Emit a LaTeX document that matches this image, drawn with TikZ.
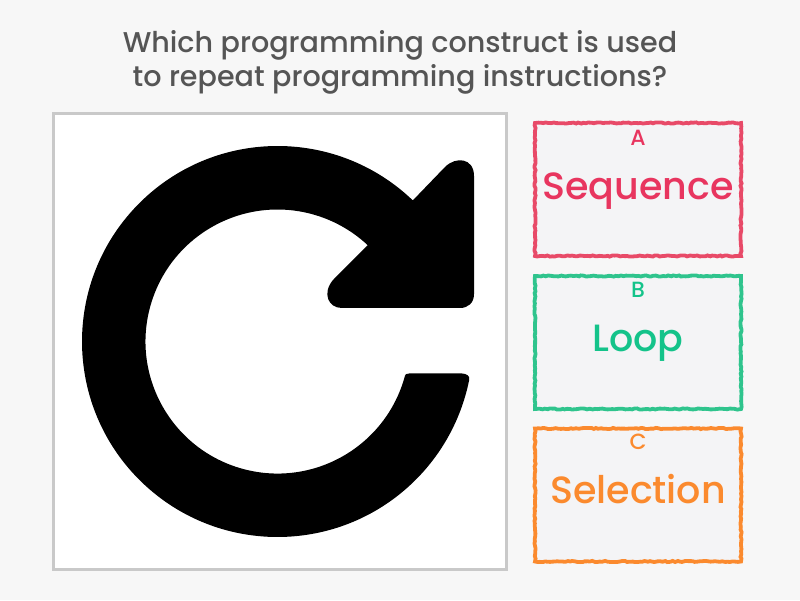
\documentclass[tikz,border=0pt]{standalone}
\usepackage{fontspec}
\setmainfont{Poppins Medium}
\usetikzlibrary{decorations.pathmorphing}

\definecolor{pagebg}{HTML}{F7F7F7}
\definecolor{boxbg}{HTML}{F4F4F6}
\definecolor{framegray}{HTML}{C9C9C9}
\definecolor{titlegray}{HTML}{555555}
\definecolor{seqred}{HTML}{E8355F}
\definecolor{seqline}{HTML}{E84A68}
\definecolor{loopgreen}{HTML}{14C38A}
\definecolor{loopline}{HTML}{2FC48D}
\definecolor{selorange}{HTML}{FB8A2E}

\tikzstyle{question} = [text=titlegray, font=\fontsize{28.6}{34}\selectfont, align=center]
\tikzstyle{answerbox} = [line width=3.8pt, fill=boxbg, minimum width=206pt, minimum height=133pt, inner sep=0pt, decorate, decoration={random steps, segment length=2.5pt, amplitude=.6pt}]
\tikzstyle{letter} = [font=\fontsize{22}{26}\selectfont, inner sep=0pt, anchor=base]
\tikzstyle{answer} = [font=\fontsize{38}{44}\selectfont, inner sep=0pt, anchor=base]

\begin{document}
\begin{tikzpicture}[x=1pt, y=1pt]
        \useasboundingbox (0,0) rectangle (800,600);
        \fill[pagebg] (0,0) rectangle (800,600);

        \node[question] (title) at (400,537.5) {Which programming construct is used\\to repeat programming instructions?};

        % picture frame and icon
        \node[draw=framegray, line width=3pt, fill=white, minimum width=453pt, minimum height=455pt, inner sep=0pt] (frame) at (279.5,258.5) {};
        \fill[black] (277.5,258.5) ++(46.2:195.5)
            arc[start angle=46.2, end angle=348.7, radius=195.5]
            .. controls (470.5,224) and (466,226.5) .. (462,226.5) -- (409,226.5)
            .. controls (406,226.5) and (405.5,225.5) .. (405,224.3)
            arc[start angle=345, end angle=46.9, radius=132]
            -- (333,320) .. controls (322,307) and (328,292) .. (342,292)
            -- (460,292) .. controls (468,292) and (474,297) .. (474,306)
            -- (474,424) .. controls (474,442) and (456,444) .. (445,433) -- cycle;

        % answers
        \node[answerbox, draw=seqline] (boxA) at (638,410.5) {};
        \node[letter, text=seqred] (letterA) at (638,454.5) {A};
        \node[answer, text=seqred] (answerA) at (638,400.5) {Sequence};

        \node[answerbox, draw=loopline] (boxB) at (638,257.5) {};
        \node[letter, text=loopgreen] (letterB) at (638,302.5) {B};
        \node[answer, text=loopgreen] (answerB) at (638,248.5) {Loop};

        \node[answerbox, draw=selorange] (boxC) at (638,105) {};
        \node[letter, text=selorange] (letterC) at (638,150.5) {C};
        \node[answer, text=selorange] (answerC) at (638,96.5) {Selection};
\end{tikzpicture}
\end{document}
